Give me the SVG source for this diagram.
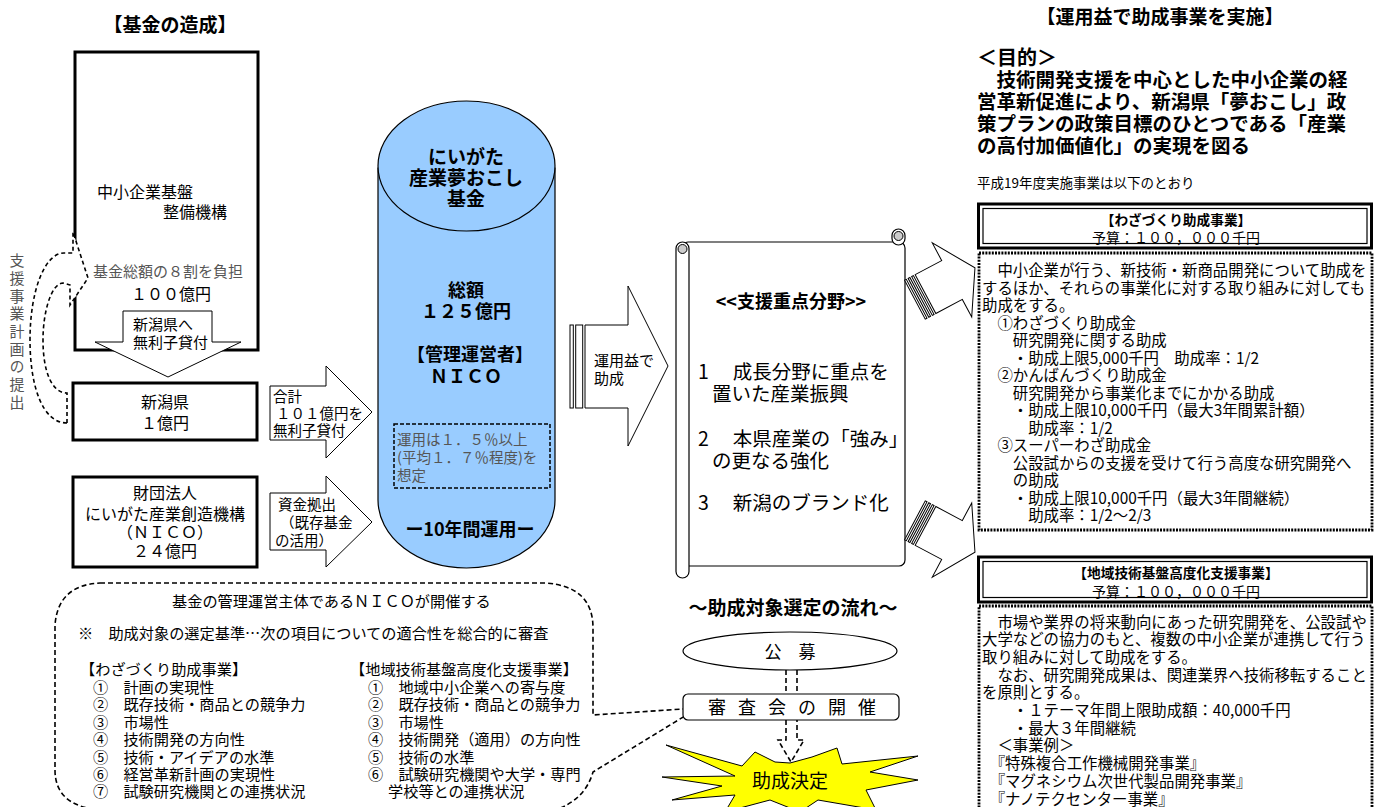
<svg xmlns="http://www.w3.org/2000/svg" width="1382" height="807" viewBox="0 0 1382 807">
<style>
text{font-family:"Noto Sans CJK JP","Noto Sans CJK SC",sans-serif;fill:#000}
.b{font-weight:700}
.g{fill:#555}
.c{text-anchor:middle}
.box{fill:#fff;stroke:#000;stroke-width:3}
.arr{fill:#fff;stroke:#000;stroke-width:1}
.thin{fill:#fff;stroke:#000;stroke-width:1.2}
.dash{fill:none;stroke:#000;stroke-width:1.6;stroke-dasharray:5 3}
.dot{fill:#fff;stroke:#000;stroke-width:2.8;stroke-dasharray:2 1.2}
</style>
<defs>
<g id="bent">
<path class="arr" d="M0,-22 L0,-42 L26,0 L0,42 L0,22 L-30,22 L-30,-22 Z"/>
<rect class="arr" x="-34" y="-22" width="2" height="44"/>
<rect class="arr" x="-38" y="-22" width="2" height="44"/>
<rect class="arr" x="-42" y="-22" width="2" height="44"/>
</g>
</defs>
<rect width="1382" height="807" fill="#fff"/>

<text class="b c" x="170" y="32" font-size="19">【基金の造成】</text>

<g id="kiban">
<rect class="box" x="75" y="52" width="183" height="298"/>
<text font-size="16"><tspan x="97" y="198">中小企業基盤</tspan><tspan x="163" y="218">整備機構</tspan></text>
<text class="g" x="93" y="277" font-size="15">基金総額の８割を負担</text>
<text class="c" x="171" y="300" font-size="16">１００億円</text>
</g>

<g id="support">
<path fill="#fff" stroke="#000" stroke-width="1.6" stroke-dasharray="4 3" d="M67,423 C42,423 30,385 30,340 C30,290 45,253 64,253 L73,253 L73,232 L88,278 L70,305 L70,285 L63,283 C52,283 43,310 43,340 C43,372 52,393 67,393 Z"/>
<text class="g" x="17" y="253" font-size="15" writing-mode="vertical-rl" letter-spacing="2.7">支援事業計画の提出</text>
</g>

<g id="loan">
<path class="arr" d="M123,311 L212,311 L212,342 L241,342 L168,377 L95,342 L123,342 Z"/>
<text font-size="15"><tspan x="133" y="330">新潟県へ</tspan><tspan x="133" y="348">無利子貸付</tspan></text>
</g>

<g id="niigata">
<rect class="box" x="73" y="383" width="184" height="57"/>
<text class="c" font-size="16"><tspan x="165" y="408">新潟県</tspan><tspan x="165" y="429">１億円</tspan></text>
</g>

<g id="nico">
<rect class="box" x="73" y="477" width="184" height="90"/>
<text class="c" font-size="16"><tspan x="165" y="499">財団法人</tspan><tspan x="165" y="520">にいがた産業創造機構</tspan><tspan x="165" y="538">（ＮＩＣＯ）</tspan><tspan x="165" y="557">２４億円</tspan></text>
</g>

<g id="arrow-total">
<path class="arr" d="M270,386 L326,386 L326,366 L372,412 L326,458 L326,440 L270,440 Z"/>
<text font-size="14.5"><tspan x="273" y="402">合計</tspan><tspan x="276" y="419">１０１億円を</tspan><tspan x="273" y="436">無利子貸付</tspan></text>
</g>

<g id="arrow-fund">
<path class="arr" d="M270,493 L326,493 L326,476 L372,522 L326,567 L326,550 L270,550 Z"/>
<text font-size="14.5"><tspan x="278" y="510">資金拠出</tspan><tspan x="280" y="528">（既存基金</tspan><tspan x="275" y="546">の活用）</tspan></text>
</g>

<g id="fund">
<path fill="#99CCFF" stroke="#000" stroke-width="1.2" d="M378,168 L378,500 A88.5,68 0 0 0 555,500 L555,168 Z"/>
<ellipse cx="466.5" cy="166" rx="88.5" ry="65" fill="#99CCFF" stroke="#000" stroke-width="1.2"/>
<text class="b c" font-size="19"><tspan x="466" y="164">にいがた</tspan><tspan x="466" y="185">産業夢おこし</tspan><tspan x="466" y="206">基金</tspan></text>
<text class="b c" font-size="18"><tspan x="466" y="297">総額</tspan><tspan x="466" y="318">１２５億円</tspan><tspan x="470" y="361">【管理運営者】</tspan><tspan x="466" y="383">ＮＩＣＯ</tspan></text>
<rect x="394" y="424" width="156" height="64" fill="none" stroke="#000" stroke-width="1.5" stroke-dasharray="4 2"/>
<text class="g" font-size="14.5"><tspan x="397" y="445">運用は１．５％以上</tspan><tspan x="397" y="463">(平均１．７％程度)を</tspan><tspan x="397" y="481">想定</tspan></text>
<text class="b c" x="470" y="536" font-size="18">ー10年間運用ー</text>
</g>

<g id="arrow-profit">
<rect class="arr" x="570" y="325" width="3.3" height="83"/>
<rect class="arr" x="575.7" y="325" width="7" height="83"/>
<path class="arr" d="M585,325 L628,325 L628,286 L668,366 L628,446 L628,408 L585,408 Z"/>
<text font-size="15"><tspan x="594" y="366">運用益で</tspan><tspan x="594" y="384">助成</tspan></text>
</g>

<g id="scroll">
<rect class="thin" x="682" y="242" width="223" height="324" rx="6"/>
<rect class="thin" x="892" y="229" width="13" height="16" rx="6.5"/>
<circle cx="898.5" cy="236" r="4.5" fill="#ccc" stroke="#000" stroke-width="1"/>
<rect class="thin" x="676" y="242" width="13" height="336" rx="6.5"/>
<circle cx="682.5" cy="249" r="4.5" fill="#ccc" stroke="#000" stroke-width="1"/>
<text class="b c" x="791" y="308" font-size="18">&lt;&lt;支援重点分野&gt;&gt;</text>
<text font-size="19.5"><tspan x="698" y="379">1　 成長分野に重点を</tspan><tspan x="712" y="401">置いた産業振興</tspan><tspan x="698" y="446">2　 本県産業の「強み」</tspan><tspan x="712" y="468">の更なる強化</tspan><tspan x="698" y="510">3　 新潟のブランド化</tspan></text>
</g>

<g id="connectors">
<use href="#bent" transform="translate(952,280) rotate(-28)"/>
<use href="#bent" transform="translate(952,540) rotate(28)"/>
</g>

<g id="purpose">
<text class="b c" x="1160" y="24" font-size="19">【運用益で助成事業を実施】</text>
<text class="b" x="977" y="65" font-size="20">＜目的＞</text>
<text class="b" font-size="19.5"><tspan x="977" y="87">　技術開発支援を中心とした中小企業の経</tspan><tspan x="977" y="109">営革新促進により、新潟県「夢おこし」政</tspan><tspan x="977" y="131">策プランの政策目標のひとつである「産業</tspan><tspan x="977" y="153">の高付加価値化」の実現を図る</tspan></text>
<text x="977" y="188" font-size="13.5">平成19年度実施事業は以下のとおり</text>
</g>

<g id="waza">
<rect x="978.5" y="204" width="393" height="44" fill="#fff" stroke="#000" stroke-width="3"/>
<rect x="983" y="208.5" width="384" height="35" fill="none" stroke="#000" stroke-width="1.2"/>
<text class="c" font-size="14"><tspan class="b" x="1176" y="225" font-size="13.7">【わざづくり助成事業】</tspan><tspan x="1176" y="243">予算：１００，０００千円</tspan></text>
<rect class="dot" x="979" y="253" width="393" height="277"/>
<text font-size="15.4">
<tspan x="982" y="276">　中小企業が行う、新技術・新商品開発について助成を</tspan>
<tspan x="982" y="293.5">するほか、それらの事業化に対する取り組みに対しても</tspan>
<tspan x="982" y="311">助成をする。</tspan>
<tspan x="982" y="328.5">　①わざづくり助成金</tspan>
<tspan x="982" y="346">　　研究開発に関する助成</tspan>
<tspan x="982" y="363.5">　　・助成上限5,000千円　助成率：1/2</tspan>
<tspan x="982" y="381">　②かんばんづくり助成金</tspan>
<tspan x="982" y="398.5">　　研究開発から事業化までにかかる助成</tspan>
<tspan x="982" y="416">　　・助成上限10,000千円（最大3年間累計額）</tspan>
<tspan x="982" y="433.5">　　　助成率：1/2</tspan>
<tspan x="982" y="451">　③スーパーわざ助成金</tspan>
<tspan x="982" y="468.5">　　公設試からの支援を受けて行う高度な研究開発へ</tspan>
<tspan x="982" y="486">　　の助成</tspan>
<tspan x="982" y="503.5">　　・助成上限10,000千円（最大3年間継続）</tspan>
<tspan x="982" y="521">　　　助成率：1/2〜2/3</tspan>
</text>
</g>

<g id="chiiki">
<rect x="978.5" y="557" width="393" height="45" fill="#fff" stroke="#000" stroke-width="3"/>
<rect x="983" y="561.5" width="384" height="36" fill="none" stroke="#000" stroke-width="1.2"/>
<text class="c" font-size="14"><tspan class="b" x="1176" y="578" font-size="13.7">【地域技術基盤高度化支援事業】</tspan><tspan x="1176" y="597">予算：１００，０００千円</tspan></text>
<rect class="dot" x="979" y="606" width="393" height="215"/>
<text font-size="15.4">
<tspan x="982" y="627.5">　市場や業界の将来動向にあった研究開発を、公設試や</tspan>
<tspan x="982" y="645.2">大学などの協力のもと、複数の中小企業が連携して行う</tspan>
<tspan x="982" y="662.9">取り組みに対して助成をする。</tspan>
<tspan x="982" y="680.6">　なお、研究開発成果は、関連業界へ技術移転すること</tspan>
<tspan x="982" y="698.3">を原則とする。</tspan>
<tspan x="982" y="716">　　・１テーマ年間上限助成額：40,000千円</tspan>
<tspan x="982" y="733.7">　　・最大３年間継続</tspan>
<tspan x="982" y="751.4">　＜事業例＞</tspan>
<tspan x="982" y="769.1">　『特殊複合工作機械開発事業』</tspan>
<tspan x="982" y="786.8">　『マグネシウム次世代製品開発事業』</tspan>
<tspan x="982" y="804.5">　『ナノテクセンター事業』</tspan>
</text>
</g>

<g id="criteria">
<path class="dash" d="M100,583 L545,583 Q593,586 593,628 L593,715 L698,708 L593,772 Q585,800 555,810 L100,810 Q55,806 55,770 L55,625 Q58,585 100,583 Z"/>
<text font-size="15.2"><tspan x="172" y="607">基金の管理運営主体であるＮＩＣＯが開催する</tspan><tspan x="78" y="639">※　助成対象の選定基準…次の項目についての適合性を総合的に審査</tspan></text>
<text font-size="15.2">
<tspan x="80" y="675">【わざづくり助成事業】</tspan>
<tspan x="93" y="693">①　計画の実現性</tspan>
<tspan x="93" y="710.4">②　既存技術・商品との競争力</tspan>
<tspan x="93" y="727.8">③　市場性</tspan>
<tspan x="93" y="745.2">④　技術開発の方向性</tspan>
<tspan x="93" y="762.6">⑤　技術・アイデアの水準</tspan>
<tspan x="93" y="780">⑥　経営革新計画の実現性</tspan>
<tspan x="93" y="797.4">⑦　試験研究機関との連携状況</tspan>
</text>
<text font-size="15.2">
<tspan x="350" y="675">【地域技術基盤高度化支援事業】</tspan>
<tspan x="368" y="693">①　地域中小企業への寄与度</tspan>
<tspan x="368" y="710.4">②　既存技術・商品との競争力</tspan>
<tspan x="368" y="727.8">③　市場性</tspan>
<tspan x="368" y="745.2">④　技術開発（適用）の方向性</tspan>
<tspan x="368" y="762.6">⑤　技術の水準</tspan>
<tspan x="368" y="780">⑥　試験研究機関や大学・専門</tspan>
<tspan x="388" y="797.4">学校等との連携状況</tspan>
</text>
</g>

<g id="flow">
<text class="b c" x="793" y="615" font-size="19">〜助成対象選定の流れ〜</text>
<g id="koubo">
<ellipse class="thin" cx="790" cy="651" rx="107" ry="19"/>
<text class="c" x="790" y="658" font-size="17">公　募</text>
</g>
<path class="dash" stroke-width="1.4" stroke-dasharray="4 3" d="M786,670 L786,694 M797,670 L797,694"/>
<g id="shinsa">
<rect class="thin" x="683" y="694" width="216" height="26" rx="5"/>
<text x="708 738 768 798 828 858" y="714" font-size="18">審査会の開催</text>
</g>
<g id="kettei">
<polygon fill="#FFFF00" stroke="#000" stroke-width="1" points="666,745 742,766 755,752 775,762 790,763 812,757 837,748 842,764 918,756 870,772 918,780 866,790 876,810 818,800 800,812 770,800 725,812 735,795 672,800 722,786 662,777 735,776"/>
<text class="c" x="790" y="788" font-size="19">助成決定</text>
</g>
<path class="dash" stroke-width="1.4" stroke-dasharray="4 3" d="M786,720 L786,740 L778,740 L791,762 L804,740 L797,740 L797,720"/>
</g>
</svg>
